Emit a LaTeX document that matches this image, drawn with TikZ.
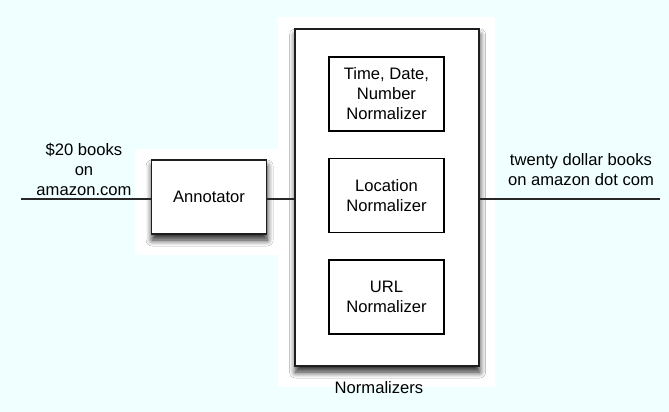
\documentclass[tikz,border=0pt]{standalone}
\usepackage{fontspec}
\setmainfont{Liberation Sans}
\usepackage{xcolor}
\usetikzlibrary{positioning,shadows.blur}
\definecolor{paleCyan}{RGB}{240,255,255}
\definecolor{boxLine}{RGB}{30,30,30}
\definecolor{wireGray}{RGB}{40,40,40}

\begin{document}
\begin{tikzpicture}[x=0.5pt,y=-0.5pt,
  font=\fontsize{8.3}{10}\selectfont,
  stage/.style={draw=boxLine, line width=0.9pt, fill=white, align=center, inner sep=0pt,
    minimum width=57.5pt, minimum height=37pt,
    blur shadow={shadow xshift=0.3pt, shadow yshift=-3pt, shadow blur radius=3pt,
      shadow blur steps=8, shadow opacity=85}},
  substage/.style={draw=black, line width=0.6pt, fill=white, align=center, inner sep=0pt,
    minimum width=57.5pt, minimum height=37pt},
  wire/.style={wireGray, line width=0.6pt},
  caption/.style={align=center, inner sep=0pt}]
\fill[paleCyan] (0,0) rectangle (669,412);
\useasboundingbox (0,0) rectangle (669,412);
% white panels behind the two stages
\fill[white] (135,149) rectangle (279,255);
\fill[white] (278,17) rectangle (495,387);

\node[stage] (annot) at (209,197) {Annotator};
\node[stage, minimum width=92pt, minimum height=168.5pt] (norm) at (387,197.5) {};
\node[substage] (tdn) at (386.5,94) {Time, Date,\\Number\\Normalizer};
\node[substage] (loc) at (386.5,195.5) {Location\\Normalizer};
\node[substage] (url) at (386.5,297) {URL\\Normalizer};
\node[caption] (normcap) at (379,388) {Normalizers};

\coordinate (in) at (21,199);
\coordinate (out) at (660,199);
\draw[wire] (in) -- (annot.west |- in);
\draw[wire] (annot.east |- in) -- (norm.west |- in);
\draw[wire] (norm.east |- out) -- (out);

\node[caption, anchor=south] (incap) at (84,196) {\$20 books\\on\\amazon.com};
\node[caption, anchor=south] (outcap) at (581,186) {twenty dollar books\\on amazon dot com};
\end{tikzpicture}
\end{document}
